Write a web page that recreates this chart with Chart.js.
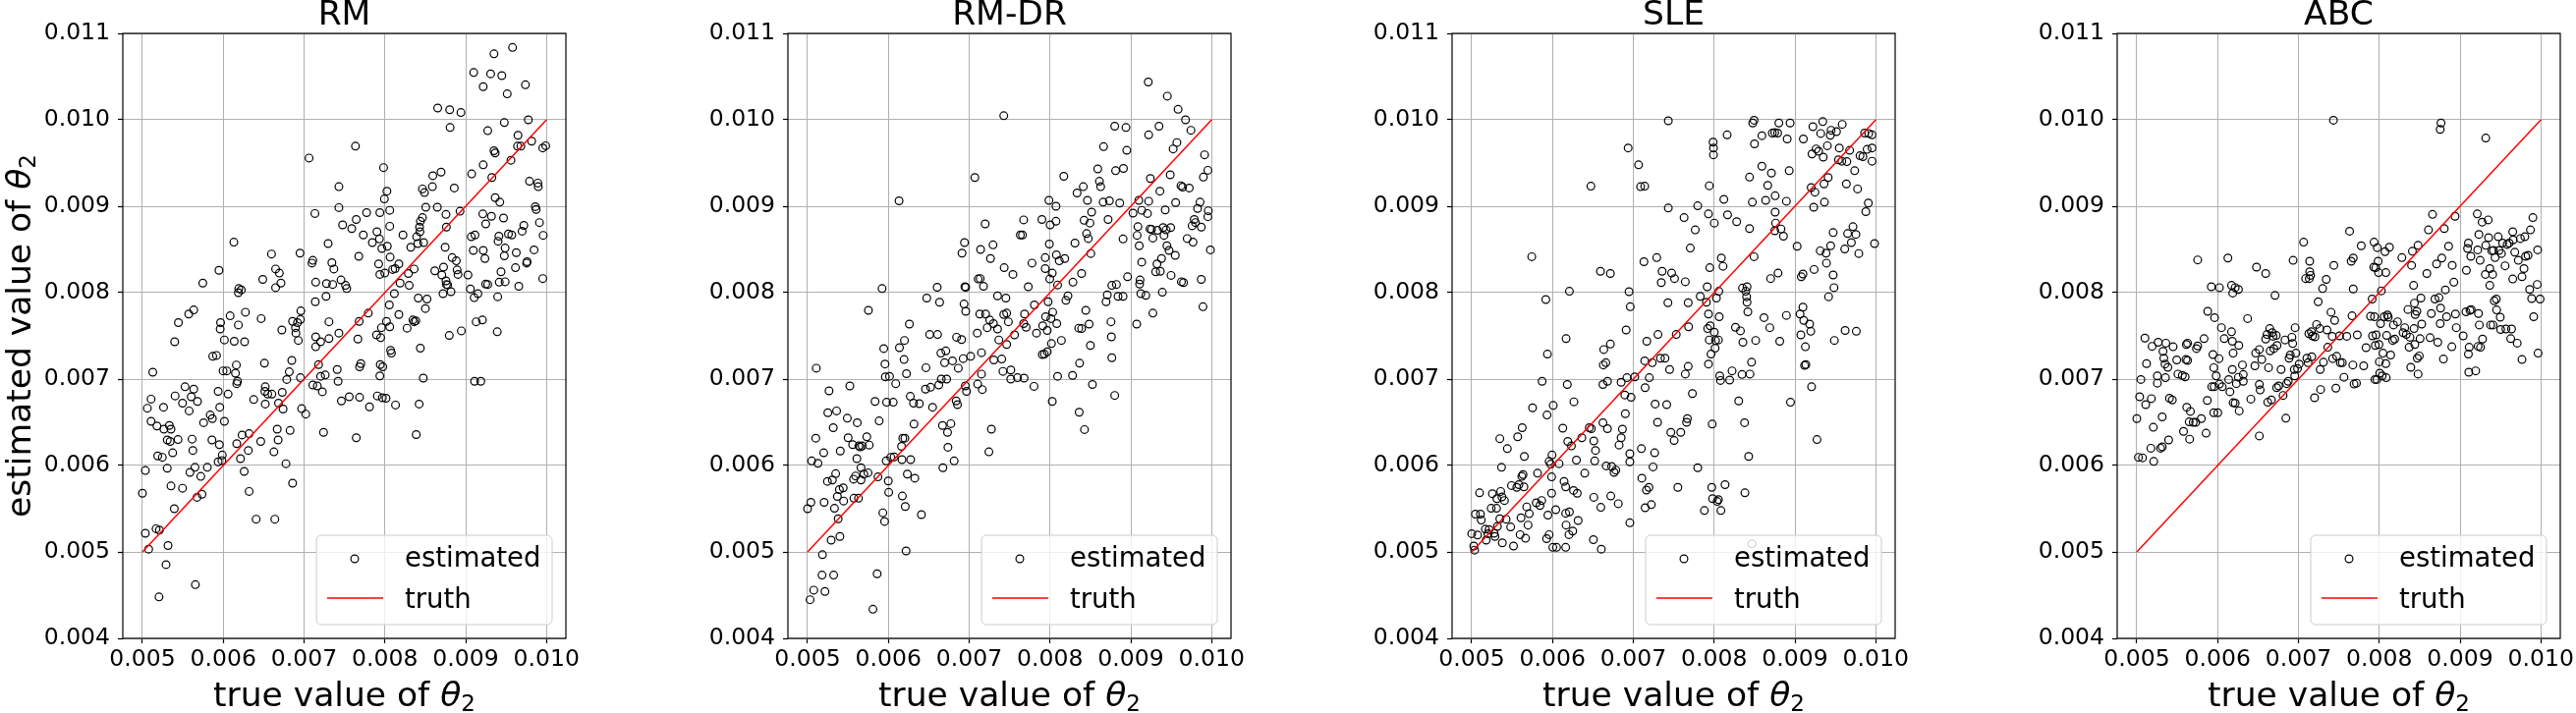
<!DOCTYPE html>
<html>
<head>
<meta charset="utf-8">
<title>estimated vs true value of theta2</title>
<script src="https://cdn.jsdelivr.net/npm/chart.js@4.4.1/dist/chart.umd.min.js"></script>
<style>
  html, body { margin: 0; padding: 0; background: #fff; overflow: hidden; }
  #figure { position: relative; width: 2622px; height: 726px; overflow: hidden; }
  .panel { position: absolute; top: 0; }
</style>
</head>
<body>
<div id="figure"></div>
<script>
// axis ticks and limits (same for every panel)
const xTicks = [0.005, 0.006, 0.007, 0.008, 0.009, 0.010];
const yTicks = [0.004, 0.005, 0.006, 0.007, 0.008, 0.009, 0.010, 0.011];
const xLimits = [0.004757, 0.010240];
const yLimits = [0.004, 0.011];

// the red "truth" line y = x
const truthX = [0.005, 0.010];
const truthY = [0.005, 0.010];

const panelTitles = ['RM', 'RM-DR', 'SLE', 'ABC'];

// RM
const rmTrue = [
  5.000e-3, 5.036e-3, 5.036e-3, 5.077e-3, 5.061e-3, 5.107e-3, 5.107e-3, 5.128e-3, 5.179e-3, 5.169e-3,
  5.210e-3, 5.189e-3, 5.246e-3, 5.266e-3, 5.261e-3, 5.292e-3, 5.317e-3, 5.205e-3, 5.307e-3, 5.307e-3,
  5.333e-3, 5.353e-3, 5.343e-3, 5.374e-3, 5.353e-3, 5.394e-3, 5.399e-3, 5.404e-3, 5.440e-3, 5.445e-3,
  5.496e-3, 5.496e-3, 5.527e-3, 5.573e-3, 5.635e-3, 5.578e-3, 5.588e-3, 5.614e-3, 5.624e-3, 5.635e-3,
  5.604e-3, 5.650e-3, 5.681e-3, 5.655e-3, 5.675e-3, 5.737e-3, 5.722e-3, 5.747e-3, 5.757e-3, 5.803e-3,
  5.839e-3, 5.865e-3, 5.860e-3, 5.870e-3, 5.916e-3, 5.947e-3, 5.937e-3, 5.952e-3, 5.957e-3, 5.962e-3,
  5.967e-3, 5.937e-3, 5.988e-3, 5.983e-3, 5.998e-3, 6.014e-3, 6.014e-3, 6.044e-3, 6.060e-3, 6.085e-3,
  6.131e-3, 6.136e-3, 6.162e-3, 6.151e-3, 6.167e-3, 6.177e-3, 6.187e-3, 6.192e-3, 6.223e-3, 6.187e-3,
  6.167e-3, 6.213e-3, 6.233e-3, 6.259e-3, 6.264e-3, 6.274e-3, 6.310e-3, 6.320e-3, 6.320e-3, 6.377e-3,
  6.407e-3, 6.464e-3, 6.469e-3, 6.489e-3, 6.510e-3, 6.520e-3, 6.515e-3, 6.520e-3, 6.551e-3, 6.597e-3,
  6.602e-3, 6.638e-3, 6.627e-3, 6.648e-3, 6.648e-3, 6.694e-3, 6.714e-3, 6.668e-3, 6.679e-3, 6.684e-3,
  6.730e-3, 6.740e-3, 6.725e-3, 6.776e-3, 6.786e-3, 6.817e-3, 6.827e-3, 6.848e-3, 6.858e-3, 6.858e-3,
  6.894e-3, 6.899e-3, 6.919e-3, 6.929e-3, 6.950e-3, 6.955e-3, 6.960e-3, 6.955e-3, 6.970e-3, 7.021e-3,
  7.062e-3, 7.098e-3, 7.108e-3, 7.108e-3, 7.134e-3, 7.144e-3, 7.139e-3, 7.144e-3, 7.144e-3, 7.164e-3,
  7.180e-3, 7.205e-3, 7.205e-3, 7.226e-3, 7.241e-3, 7.262e-3, 7.272e-3, 7.277e-3, 7.298e-3, 7.308e-3,
  7.308e-3, 7.354e-3, 7.344e-3, 7.369e-3, 7.410e-3, 7.421e-3, 7.431e-3, 7.431e-3, 7.431e-3, 7.457e-3,
  7.462e-3, 7.477e-3, 7.513e-3, 7.528e-3, 7.559e-3, 7.590e-3, 7.636e-3, 7.646e-3, 7.646e-3, 7.677e-3,
  7.666e-3, 7.682e-3, 7.687e-3, 7.702e-3, 7.687e-3, 7.733e-3, 7.774e-3, 7.795e-3, 7.810e-3, 7.845e-3,
  7.902e-3, 7.907e-3, 7.897e-3, 7.923e-3, 7.933e-3, 7.938e-3, 7.938e-3, 7.943e-3, 7.938e-3, 7.948e-3,
  7.958e-3, 7.974e-3, 7.963e-3, 7.969e-3, 7.984e-3, 7.994e-3, 7.999e-3, 8.014e-3, 8.025e-3, 8.030e-3,
  8.020e-3, 8.060e-3, 8.060e-3, 8.065e-3, 8.055e-3, 8.060e-3, 8.071e-3, 8.081e-3, 8.096e-3, 8.117e-3,
  8.127e-3, 8.132e-3, 8.173e-3, 8.173e-3, 8.188e-3, 8.224e-3, 8.275e-3, 8.291e-3, 8.301e-3, 8.321e-3,
  8.347e-3, 8.362e-3, 8.362e-3, 8.383e-3, 8.388e-3, 8.393e-3, 8.413e-3, 8.408e-3, 8.429e-3, 8.439e-3,
  8.434e-3, 8.439e-3, 8.424e-3, 8.465e-3, 8.465e-3, 8.480e-3, 8.475e-3, 8.490e-3, 8.501e-3, 8.506e-3,
  8.521e-3, 8.588e-3, 8.593e-3, 8.618e-3, 8.649e-3, 8.654e-3, 8.695e-3, 8.705e-3, 8.720e-3, 8.726e-3,
  8.746e-3, 8.756e-3, 8.756e-3, 8.761e-3, 8.761e-3, 8.777e-3, 8.797e-3, 8.807e-3, 8.802e-3, 8.818e-3,
  8.833e-3, 8.859e-3, 8.884e-3, 8.894e-3, 8.905e-3, 8.930e-3, 8.941e-3, 8.946e-3, 9.028e-3, 9.058e-3,
  9.069e-3, 9.074e-3, 9.094e-3, 9.099e-3, 9.110e-3, 9.105e-3, 9.115e-3, 9.130e-3, 9.151e-3, 9.187e-3,
  9.207e-3, 9.212e-3, 9.217e-3, 9.217e-3, 9.217e-3, 9.238e-3, 9.248e-3, 9.248e-3, 9.273e-3, 9.273e-3,
  9.309e-3, 9.319e-3, 9.324e-3, 9.350e-3, 9.350e-3, 9.365e-3, 9.365e-3, 9.391e-3, 9.396e-3, 9.401e-3,
  9.411e-3, 9.416e-3, 9.422e-3, 9.437e-3, 9.447e-3, 9.468e-3, 9.478e-3, 9.488e-3, 9.478e-3, 9.488e-3,
  9.514e-3, 9.529e-3, 9.560e-3, 9.570e-3, 9.580e-3, 9.616e-3, 9.626e-3, 9.647e-3, 9.642e-3, 9.657e-3,
  9.683e-3, 9.698e-3, 9.719e-3, 9.739e-3, 9.754e-3, 9.760e-3, 9.775e-3, 9.790e-3, 9.816e-3, 9.846e-3,
  9.862e-3, 9.872e-3, 9.893e-3, 9.898e-3, 9.913e-3, 9.954e-3, 9.954e-3, 9.959e-3, 9.990e-3
];
const rmEst = [
  5.679e-3, 5.942e-3, 5.216e-3, 5.032e-3, 6.663e-3, 6.768e-3, 6.511e-3, 7.079e-3, 6.458e-3, 5.268e-3,
  5.253e-3, 6.111e-3, 6.095e-3, 6.421e-3, 6.674e-3, 4.853e-3, 5.074e-3, 4.479e-3, 5.968e-3, 6.295e-3,
  6.463e-3, 6.421e-3, 6.279e-3, 6.147e-3, 5.763e-3, 5.500e-3, 7.432e-3, 6.805e-3, 6.300e-3, 7.653e-3,
  5.737e-3, 6.721e-3, 6.911e-3, 7.753e-3, 7.800e-3, 6.632e-3, 5.921e-3, 6.305e-3, 6.174e-3, 6.884e-3,
  6.795e-3, 5.979e-3, 6.742e-3, 4.621e-3, 5.632e-3, 5.668e-3, 5.874e-3, 8.111e-3, 6.495e-3, 5.979e-3,
  6.584e-3, 6.542e-3, 6.295e-3, 7.263e-3, 7.274e-3, 8.258e-3, 6.858e-3, 6.242e-3, 6.674e-3, 7.579e-3,
  7.653e-3, 6.042e-3, 6.121e-3, 6.058e-3, 7.095e-3, 6.511e-3, 7.453e-3, 7.095e-3, 6.826e-3, 7.732e-3,
  8.584e-3, 7.437e-3, 7.163e-3, 7.068e-3, 6.947e-3, 6.974e-3, 8.000e-3, 8.047e-3, 8.032e-3, 7.626e-3,
  6.253e-3, 6.079e-3, 6.353e-3, 5.932e-3, 7.432e-3, 7.774e-3, 6.174e-3, 6.368e-3, 5.700e-3, 6.763e-3,
  5.379e-3, 6.279e-3, 7.700e-3, 8.153e-3, 7.184e-3, 6.911e-3, 6.858e-3, 6.711e-3, 6.826e-3, 8.447e-3,
  6.826e-3, 5.379e-3, 6.158e-3, 8.274e-3, 8.058e-3, 8.226e-3, 8.111e-3, 6.421e-3, 6.295e-3, 6.721e-3,
  6.847e-3, 6.653e-3, 7.568e-3, 6.021e-3, 6.995e-3, 7.084e-3, 6.405e-3, 7.216e-3, 5.795e-3, 7.668e-3,
  7.595e-3, 7.532e-3, 7.653e-3, 7.447e-3, 8.458e-3, 7.689e-3, 7.789e-3, 7.016e-3, 6.658e-3, 6.595e-3,
  9.558e-3, 8.342e-3, 8.374e-3, 6.932e-3, 8.916e-3, 8.121e-3, 7.895e-3, 7.489e-3, 7.374e-3, 6.921e-3,
  7.168e-3, 7.432e-3, 7.032e-3, 6.853e-3, 6.384e-3, 7.047e-3, 7.958e-3, 8.105e-3, 8.568e-3, 7.663e-3,
  7.468e-3, 8.095e-3, 8.347e-3, 8.274e-3, 7.111e-3, 6.974e-3, 9.226e-3, 8.984e-3, 7.532e-3, 8.147e-3,
  6.747e-3, 8.784e-3, 8.084e-3, 8.047e-3, 6.795e-3, 8.742e-3, 9.695e-3, 6.321e-3, 8.847e-3, 8.421e-3,
  7.463e-3, 7.668e-3, 7.142e-3, 7.179e-3, 6.789e-3, 8.668e-3, 8.926e-3, 7.763e-3, 6.679e-3, 8.579e-3,
  8.705e-3, 6.805e-3, 7.511e-3, 8.332e-3, 8.621e-3, 8.211e-3, 7.037e-3, 7.168e-3, 8.926e-3, 7.479e-3,
  7.595e-3, 7.142e-3, 8.511e-3, 6.784e-3, 9.447e-3, 9.084e-3, 8.226e-3, 6.779e-3, 9.174e-3, 8.537e-3,
  7.668e-3, 8.953e-3, 8.768e-3, 8.411e-3, 7.858e-3, 7.605e-3, 7.332e-3, 7.300e-3, 8.268e-3, 7.989e-3,
  8.279e-3, 6.700e-3, 8.332e-3, 7.747e-3, 8.111e-3, 8.668e-3, 7.589e-3, 8.221e-3, 8.084e-3, 8.526e-3,
  7.684e-3, 7.663e-3, 8.274e-3, 7.674e-3, 6.358e-3, 8.647e-3, 7.937e-3, 8.568e-3, 8.758e-3, 8.826e-3,
  8.705e-3, 7.358e-3, 6.711e-3, 8.868e-3, 9.200e-3, 8.579e-3, 7.011e-3, 9.158e-3, 7.816e-3, 8.989e-3,
  7.926e-3, 9.226e-3, 9.353e-3, 8.253e-3, 8.989e-3, 10.137e-3, 9.395e-3, 8.205e-3, 7.989e-3, 8.295e-3,
  8.526e-3, 8.905e-3, 8.137e-3, 8.758e-3, 8.095e-3, 8.089e-3, 7.505e-3, 9.911e-3, 10.116e-3, 8.011e-3,
  8.405e-3, 9.211e-3, 8.368e-3, 8.263e-3, 8.211e-3, 8.942e-3, 10.084e-3, 7.558e-3, 8.205e-3, 8.042e-3,
  8.647e-3, 9.374e-3, 8.489e-3, 10.547e-3, 6.974e-3, 7.942e-3, 8.668e-3, 7.663e-3, 7.989e-3, 6.974e-3,
  7.684e-3, 8.911e-3, 10.384e-3, 9.479e-3, 8.489e-3, 8.395e-3, 8.795e-3, 8.100e-3, 9.874e-3, 8.095e-3,
  10.532e-3, 8.884e-3, 9.332e-3, 10.763e-3, 9.642e-3, 9.616e-3, 9.100e-3, 7.547e-3, 7.953e-3, 8.595e-3,
  8.653e-3, 8.121e-3, 9.047e-3, 8.242e-3, 10.511e-3, 8.863e-3, 8.426e-3, 8.516e-3, 9.968e-3, 8.126e-3,
  10.300e-3, 8.679e-3, 9.532e-3, 8.668e-3, 10.837e-3, 8.289e-3, 8.463e-3, 9.821e-3, 9.695e-3, 8.074e-3,
  9.695e-3, 8.711e-3, 8.779e-3, 10.405e-3, 8.342e-3, 8.358e-3, 10.000e-3, 9.289e-3, 9.753e-3, 8.495e-3,
  8.995e-3, 8.963e-3, 9.268e-3, 9.226e-3, 8.811e-3, 8.163e-3, 9.674e-3, 8.663e-3, 9.700e-3
];

// RM-DR
const rmdrTrue = [
  5.000e-3, 5.031e-3, 5.041e-3, 5.051e-3, 5.077e-3, 5.108e-3, 5.102e-3, 5.128e-3, 5.184e-3, 5.179e-3,
  5.205e-3, 5.200e-3, 5.215e-3, 5.251e-3, 5.246e-3, 5.266e-3, 5.292e-3, 5.318e-3, 5.323e-3, 5.333e-3,
  5.307e-3, 5.359e-3, 5.348e-3, 5.369e-3, 5.379e-3, 5.394e-3, 5.400e-3, 5.405e-3, 5.441e-3, 5.446e-3,
  5.492e-3, 5.502e-3, 5.523e-3, 5.558e-3, 5.569e-3, 5.574e-3, 5.610e-3, 5.615e-3, 5.594e-3, 5.630e-3,
  5.635e-3, 5.651e-3, 5.661e-3, 5.661e-3, 5.676e-3, 5.697e-3, 5.733e-3, 5.763e-3, 5.753e-3, 5.748e-3,
  5.809e-3, 5.835e-3, 5.861e-3, 5.871e-3, 5.886e-3, 5.922e-3, 5.943e-3, 5.932e-3, 5.953e-3, 5.958e-3,
  5.963e-3, 5.973e-3, 5.978e-3, 5.999e-3, 6.004e-3, 6.014e-3, 6.030e-3, 6.060e-3, 6.091e-3, 6.132e-3,
  6.137e-3, 6.173e-3, 6.168e-3, 6.199e-3, 6.194e-3, 6.219e-3, 6.224e-3, 6.209e-3, 6.235e-3, 6.260e-3,
  6.271e-3, 6.276e-3, 6.311e-3, 6.317e-3, 6.327e-3, 6.383e-3, 6.409e-3, 6.475e-3, 6.465e-3, 6.460e-3,
  6.511e-3, 6.522e-3, 6.547e-3, 6.604e-3, 6.609e-3, 6.624e-3, 6.634e-3, 6.650e-3, 6.655e-3, 6.670e-3,
  6.675e-3, 6.696e-3, 6.711e-3, 6.721e-3, 6.732e-3, 6.737e-3, 6.773e-3, 6.793e-3, 6.814e-3, 6.839e-3,
  6.855e-3, 6.844e-3, 6.865e-3, 6.906e-3, 6.911e-3, 6.926e-3, 6.936e-3, 6.942e-3, 6.947e-3, 6.957e-3,
  6.957e-3, 6.952e-3, 6.967e-3, 7.018e-3, 7.070e-3, 7.100e-3, 7.105e-3, 7.111e-3, 7.136e-3, 7.141e-3,
  7.131e-3, 7.152e-3, 7.152e-3, 7.162e-3, 7.177e-3, 7.198e-3, 7.203e-3, 7.223e-3, 7.244e-3, 7.254e-3,
  7.264e-3, 7.275e-3, 7.295e-3, 7.305e-3, 7.300e-3, 7.351e-3, 7.351e-3, 7.367e-3, 7.403e-3, 7.418e-3,
  7.428e-3, 7.433e-3, 7.428e-3, 7.464e-3, 7.464e-3, 7.454e-3, 7.485e-3, 7.515e-3, 7.515e-3, 7.541e-3,
  7.561e-3, 7.597e-3, 7.633e-3, 7.659e-3, 7.674e-3, 7.679e-3, 7.685e-3, 7.674e-3, 7.705e-3, 7.731e-3,
  7.777e-3, 7.802e-3, 7.807e-3, 7.833e-3, 7.900e-3, 7.905e-3, 7.910e-3, 7.931e-3, 7.941e-3, 7.941e-3,
  7.946e-3, 7.966e-3, 7.966e-3, 7.977e-3, 7.987e-3, 7.992e-3, 8.002e-3, 7.997e-3, 8.012e-3, 8.018e-3,
  8.028e-3, 8.028e-3, 8.033e-3, 8.074e-3, 8.074e-3, 8.079e-3, 8.084e-3, 8.094e-3, 8.094e-3, 8.115e-3,
  8.141e-3, 8.171e-3, 8.182e-3, 8.197e-3, 8.222e-3, 8.279e-3, 8.284e-3, 8.309e-3, 8.335e-3, 8.361e-3,
  8.366e-3, 8.356e-3, 8.391e-3, 8.391e-3, 8.412e-3, 8.422e-3, 8.427e-3, 8.443e-3, 8.453e-3, 8.463e-3,
  8.474e-3, 8.484e-3, 8.494e-3, 8.500e-3, 8.505e-3, 8.515e-3, 8.525e-3, 8.591e-3, 8.612e-3, 8.627e-3,
  8.663e-3, 8.658e-3, 8.694e-3, 8.709e-3, 8.719e-3, 8.735e-3, 8.755e-3, 8.760e-3, 8.765e-3, 8.765e-3,
  8.801e-3, 8.812e-3, 8.801e-3, 8.822e-3, 8.842e-3, 8.863e-3, 8.904e-3, 8.904e-3, 8.909e-3, 8.940e-3,
  8.950e-3, 8.960e-3, 9.027e-3, 9.073e-3, 9.078e-3, 9.088e-3, 9.099e-3, 9.104e-3, 9.114e-3, 9.109e-3,
  9.124e-3, 9.135e-3, 9.135e-3, 9.186e-3, 9.206e-3, 9.216e-3, 9.221e-3, 9.221e-3, 9.242e-3, 9.237e-3,
  9.257e-3, 9.273e-3, 9.273e-3, 9.308e-3, 9.324e-3, 9.329e-3, 9.349e-3, 9.360e-3, 9.365e-3, 9.380e-3,
  9.390e-3, 9.400e-3, 9.411e-3, 9.426e-3, 9.437e-3, 9.452e-3, 9.447e-3, 9.473e-3, 9.488e-3, 9.498e-3,
  9.493e-3, 9.524e-3, 9.550e-3, 9.555e-3, 9.570e-3, 9.585e-3, 9.621e-3, 9.626e-3, 9.641e-3, 9.652e-3,
  9.677e-3, 9.698e-3, 9.723e-3, 9.744e-3, 9.759e-3, 9.770e-3, 9.785e-3, 9.800e-3, 9.826e-3, 9.857e-3,
  9.872e-3, 9.872e-3, 9.893e-3, 9.898e-3, 9.913e-3, 9.954e-3, 9.954e-3, 9.959e-3, 9.985e-3, 6.178e-3,
  6.204e-3, 6.163e-3, 6.071e-3
];
const rmdrEst = [
  5.500e-3, 4.447e-3, 5.574e-3, 6.053e-3, 4.558e-3, 7.126e-3, 6.316e-3, 6.026e-3, 4.968e-3, 4.732e-3,
  5.574e-3, 6.147e-3, 4.542e-3, 6.611e-3, 5.816e-3, 6.863e-3, 5.137e-3, 6.437e-3, 4.732e-3, 5.505e-3,
  5.832e-3, 6.632e-3, 5.905e-3, 5.642e-3, 5.384e-3, 5.721e-3, 5.179e-3, 6.168e-3, 5.742e-3, 5.589e-3,
  6.547e-3, 6.321e-3, 6.921e-3, 6.242e-3, 5.842e-3, 5.621e-3, 6.079e-3, 6.495e-3, 5.879e-3, 5.621e-3,
  6.226e-3, 6.216e-3, 5.832e-3, 5.974e-3, 6.226e-3, 5.900e-3, 6.332e-3, 6.237e-3, 7.795e-3, 5.916e-3,
  4.337e-3, 6.742e-3, 4.747e-3, 5.868e-3, 6.516e-3, 8.047e-3, 7.353e-3, 5.453e-3, 5.353e-3, 7.174e-3,
  7.026e-3, 6.053e-3, 6.732e-3, 5.821e-3, 5.689e-3, 7.032e-3, 6.095e-3, 6.732e-3, 6.947e-3, 9.063e-3,
  7.363e-3, 5.647e-3, 6.068e-3, 7.447e-3, 7.226e-3, 5.011e-3, 7.063e-3, 5.526e-3, 5.900e-3, 7.637e-3,
  6.800e-3, 6.068e-3, 6.721e-3, 6.479e-3, 5.853e-3, 6.716e-3, 5.432e-3, 7.937e-3, 7.132e-3, 6.884e-3,
  7.516e-3, 6.905e-3, 6.674e-3, 8.063e-3, 7.516e-3, 6.932e-3, 7.889e-3, 7.300e-3, 7.000e-3, 6.463e-3,
  5.974e-3, 7.189e-3, 7.326e-3, 7.000e-3, 6.384e-3, 6.211e-3, 6.484e-3, 7.211e-3, 6.053e-3, 6.747e-3,
  6.705e-3, 7.484e-3, 7.126e-3, 7.458e-3, 8.458e-3, 7.237e-3, 7.868e-3, 8.579e-3, 8.068e-3, 8.063e-3,
  7.784e-3, 6.921e-3, 6.858e-3, 7.263e-3, 9.332e-3, 7.532e-3, 6.942e-3, 8.158e-3, 8.163e-3, 8.500e-3,
  7.753e-3, 7.305e-3, 7.058e-3, 6.879e-3, 8.074e-3, 8.795e-3, 7.753e-3, 7.595e-3, 6.158e-3, 7.684e-3,
  8.395e-3, 6.421e-3, 8.553e-3, 7.221e-3, 7.642e-3, 7.579e-3, 7.963e-3, 7.453e-3, 7.232e-3, 7.089e-3,
  10.047e-3, 8.289e-3, 7.747e-3, 7.763e-3, 7.400e-3, 7.937e-3, 7.663e-3, 7.000e-3, 7.105e-3, 8.211e-3,
  7.511e-3, 7.016e-3, 8.668e-3, 8.668e-3, 8.842e-3, 7.011e-3, 7.753e-3, 7.642e-3, 7.600e-3, 8.068e-3,
  8.342e-3, 6.916e-3, 7.858e-3, 7.532e-3, 8.847e-3, 7.284e-3, 7.616e-3, 7.289e-3, 8.279e-3, 8.405e-3,
  7.721e-3, 7.316e-3, 7.563e-3, 7.895e-3, 9.068e-3, 8.563e-3, 8.784e-3, 8.158e-3, 7.700e-3, 7.411e-3,
  6.742e-3, 8.226e-3, 7.774e-3, 9.000e-3, 8.826e-3, 8.437e-3, 7.642e-3, 8.089e-3, 7.032e-3, 8.368e-3,
  7.447e-3, 9.347e-3, 8.395e-3, 7.911e-3, 7.963e-3, 7.042e-3, 8.121e-3, 8.574e-3, 9.153e-3, 6.616e-3,
  7.184e-3, 7.589e-3, 8.221e-3, 7.584e-3, 9.226e-3, 8.837e-3, 6.416e-3, 7.795e-3, 8.684e-3, 9.068e-3,
  8.626e-3, 7.637e-3, 8.805e-3, 7.389e-3, 8.453e-3, 8.932e-3, 6.937e-3, 9.432e-3, 9.289e-3, 9.226e-3,
  9.689e-3, 9.047e-3, 7.895e-3, 7.974e-3, 8.847e-3, 9.063e-3, 7.663e-3, 7.489e-3, 7.247e-3, 8.084e-3,
  9.926e-3, 9.411e-3, 6.811e-3, 8.095e-3, 7.958e-3, 9.037e-3, 8.621e-3, 7.958e-3, 9.437e-3, 9.911e-3,
  9.647e-3, 8.184e-3, 8.921e-3, 7.637e-3, 8.663e-3, 8.763e-3, 9.068e-3, 8.542e-3, 8.147e-3, 8.100e-3,
  7.989e-3, 8.353e-3, 8.953e-3, 7.968e-3, 8.916e-3, 10.437e-3, 9.826e-3, 9.058e-3, 9.321e-3, 8.737e-3,
  8.732e-3, 8.632e-3, 7.763e-3, 8.242e-3, 8.332e-3, 8.721e-3, 9.926e-3, 9.174e-3, 8.247e-3, 8.395e-3,
  8.005e-3, 8.753e-3, 8.663e-3, 8.958e-3, 8.726e-3, 10.274e-3, 8.542e-3, 8.489e-3, 9.363e-3, 8.200e-3,
  8.753e-3, 9.663e-3, 8.432e-3, 9.042e-3, 9.737e-3, 10.121e-3, 9.237e-3, 8.126e-3, 9.221e-3, 8.116e-3,
  10.000e-3, 8.626e-3, 9.211e-3, 9.879e-3, 8.774e-3, 8.584e-3, 8.847e-3, 8.811e-3, 8.974e-3, 9.047e-3,
  8.758e-3, 8.153e-3, 7.837e-3, 9.337e-3, 9.595e-3, 9.416e-3, 8.879e-3, 8.947e-3, 8.495e-3, 6.316e-3,
  6.316e-3, 6.221e-3, 6.100e-3
];

// SLE
const sleTrue = [
  5.000e-3, 5.026e-3, 5.036e-3, 5.046e-3, 5.072e-3, 5.097e-3, 5.108e-3, 5.118e-3, 5.169e-3, 5.179e-3,
  5.200e-3, 5.215e-3, 5.241e-3, 5.256e-3, 5.277e-3, 5.287e-3, 5.307e-3, 5.312e-3, 5.318e-3, 5.348e-3,
  5.359e-3, 5.374e-3, 5.369e-3, 5.379e-3, 5.348e-3, 5.405e-3, 5.425e-3, 5.441e-3, 5.482e-3, 5.492e-3,
  5.517e-3, 5.558e-3, 5.569e-3, 5.584e-3, 5.599e-3, 5.610e-3, 5.620e-3, 5.625e-3, 5.635e-3, 5.651e-3,
  5.646e-3, 5.666e-3, 5.681e-3, 5.697e-3, 5.712e-3, 5.743e-3, 5.753e-3, 5.799e-3, 5.815e-3, 5.845e-3,
  5.866e-3, 5.871e-3, 5.917e-3, 5.927e-3, 5.932e-3, 5.937e-3, 5.943e-3, 5.958e-3, 5.958e-3, 5.978e-3,
  5.989e-3, 5.989e-3, 5.994e-3, 6.009e-3, 6.004e-3, 6.040e-3, 6.050e-3, 6.081e-3, 6.127e-3, 6.143e-3,
  6.163e-3, 6.163e-3, 6.163e-3, 6.168e-3, 6.168e-3, 6.183e-3, 6.189e-3, 6.209e-3, 6.204e-3, 6.209e-3,
  6.234e-3, 6.250e-3, 6.260e-3, 6.265e-3, 6.296e-3, 6.306e-3, 6.317e-3, 6.363e-3, 6.399e-3, 6.455e-3,
  6.475e-3, 6.480e-3, 6.506e-3, 6.511e-3, 6.511e-3, 6.522e-3, 6.532e-3, 6.593e-3, 6.598e-3, 6.604e-3,
  6.624e-3, 6.624e-3, 6.634e-3, 6.629e-3, 6.660e-3, 6.665e-3, 6.680e-3, 6.680e-3, 6.716e-3, 6.716e-3,
  6.721e-3, 6.732e-3, 6.762e-3, 6.783e-3, 6.814e-3, 6.824e-3, 6.849e-3, 6.849e-3, 6.865e-3, 6.895e-3,
  6.901e-3, 6.911e-3, 6.921e-3, 6.936e-3, 6.947e-3, 6.957e-3, 6.957e-3, 6.957e-3, 6.962e-3, 6.972e-3,
  7.018e-3, 7.065e-3, 7.090e-3, 7.100e-3, 7.105e-3, 7.131e-3, 7.141e-3, 7.141e-3, 7.146e-3, 7.146e-3,
  7.162e-3, 7.167e-3, 7.193e-3, 7.198e-3, 7.223e-3, 7.234e-3, 7.244e-3, 7.264e-3, 7.270e-3, 7.290e-3,
  7.300e-3, 7.305e-3, 7.336e-3, 7.346e-3, 7.356e-3, 7.392e-3, 7.413e-3, 7.428e-3, 7.433e-3, 7.433e-3,
  7.449e-3, 7.464e-3, 7.474e-3, 7.505e-3, 7.510e-3, 7.531e-3, 7.551e-3, 7.587e-3, 7.628e-3, 7.643e-3,
  7.643e-3, 7.659e-3, 7.669e-3, 7.679e-3, 7.679e-3, 7.684e-3, 7.705e-3, 7.731e-3, 7.766e-3, 7.797e-3,
  7.797e-3, 7.828e-3, 7.879e-3, 7.904e-3, 7.914e-3, 7.920e-3, 7.930e-3, 7.930e-3, 7.930e-3, 7.940e-3,
  7.940e-3, 7.946e-3, 7.951e-3, 7.961e-3, 7.971e-3, 7.976e-3, 7.981e-3, 7.987e-3, 7.992e-3, 7.992e-3,
  8.002e-3, 8.002e-3, 8.012e-3, 8.017e-3, 8.028e-3, 8.038e-3, 8.053e-3, 8.053e-3, 8.058e-3, 8.063e-3,
  8.069e-3, 8.079e-3, 8.084e-3, 8.089e-3, 8.110e-3, 8.120e-3, 8.135e-3, 8.161e-3, 8.166e-3, 8.192e-3,
  8.222e-3, 8.264e-3, 8.279e-3, 8.304e-3, 8.325e-3, 8.345e-3, 8.351e-3, 8.356e-3, 8.376e-3, 8.381e-3,
  8.392e-3, 8.402e-3, 8.407e-3, 8.407e-3, 8.417e-3, 8.427e-3, 8.438e-3, 8.438e-3, 8.443e-3, 8.463e-3,
  8.468e-3, 8.473e-3, 8.478e-3, 8.494e-3, 8.494e-3, 8.499e-3, 8.514e-3, 8.591e-3, 8.591e-3, 8.617e-3,
  8.638e-3, 8.663e-3, 8.689e-3, 8.699e-3, 8.709e-3, 8.720e-3, 8.750e-3, 8.755e-3, 8.755e-3, 8.761e-3,
  8.750e-3, 8.786e-3, 8.791e-3, 8.801e-3, 8.812e-3, 8.827e-3, 8.858e-3, 8.894e-3, 8.894e-3, 8.904e-3,
  8.929e-3, 8.940e-3, 8.945e-3, 9.027e-3, 9.063e-3, 9.073e-3, 9.078e-3, 9.099e-3, 9.099e-3, 9.104e-3,
  9.109e-3, 9.119e-3, 9.129e-3, 9.135e-3, 9.181e-3, 9.196e-3, 9.201e-3, 9.206e-3, 9.211e-3, 9.222e-3,
  9.232e-3, 9.237e-3, 9.247e-3, 9.262e-3, 9.273e-3, 9.293e-3, 9.319e-3, 9.313e-3, 9.344e-3, 9.350e-3,
  9.360e-3, 9.365e-3, 9.385e-3, 9.390e-3, 9.401e-3, 9.411e-3, 9.416e-3, 9.437e-3, 9.442e-3, 9.447e-3,
  9.473e-3, 9.473e-3, 9.483e-3, 9.488e-3, 9.514e-3, 9.539e-3, 9.549e-3, 9.580e-3, 9.585e-3, 9.616e-3,
  9.621e-3, 9.636e-3, 9.642e-3, 9.652e-3, 9.677e-3, 9.698e-3, 9.718e-3, 9.739e-3, 9.754e-3, 9.759e-3,
  9.775e-3, 9.790e-3, 9.805e-3, 9.841e-3, 9.862e-3, 9.877e-3, 9.893e-3, 9.908e-3, 9.913e-3, 9.954e-3,
  9.954e-3, 9.954e-3, 9.985e-3
];
const sleEst = [
  5.211e-3, 5.068e-3, 5.021e-3, 5.437e-3, 5.195e-3, 5.684e-3, 5.437e-3, 5.368e-3, 5.263e-3, 5.137e-3,
  5.211e-3, 5.258e-3, 5.505e-3, 5.674e-3, 5.216e-3, 5.179e-3, 5.505e-3, 5.616e-3, 5.295e-3, 6.311e-3,
  5.700e-3, 5.637e-3, 5.979e-3, 5.105e-3, 5.384e-3, 5.595e-3, 5.379e-3, 6.195e-3, 5.289e-3, 5.768e-3,
  5.068e-3, 5.747e-3, 6.332e-3, 5.779e-3, 5.200e-3, 5.395e-3, 5.874e-3, 6.437e-3, 5.895e-3, 6.105e-3,
  5.753e-3, 5.158e-3, 5.521e-3, 5.311e-3, 5.442e-3, 8.416e-3, 6.668e-3, 5.568e-3, 5.911e-3, 5.537e-3,
  5.595e-3, 6.974e-3, 7.921e-3, 5.153e-3, 6.584e-3, 7.289e-3, 5.426e-3, 6.047e-3, 5.200e-3, 6.016e-3,
  5.868e-3, 5.679e-3, 6.121e-3, 6.695e-3, 5.053e-3, 5.489e-3, 5.053e-3, 6.021e-3, 6.432e-3, 5.816e-3,
  5.753e-3, 5.053e-3, 5.447e-3, 5.311e-3, 7.468e-3, 6.937e-3, 6.279e-3, 5.463e-3, 5.200e-3, 8.016e-3,
  6.226e-3, 5.242e-3, 5.711e-3, 6.737e-3, 6.063e-3, 5.679e-3, 5.363e-3, 6.321e-3, 5.911e-3, 6.437e-3,
  9.232e-3, 6.426e-3, 5.142e-3, 6.284e-3, 5.632e-3, 6.053e-3, 6.174e-3, 8.247e-3, 5.516e-3, 5.032e-3,
  6.495e-3, 6.937e-3, 7.342e-3, 7.163e-3, 7.189e-3, 5.995e-3, 6.426e-3, 6.974e-3, 8.221e-3, 7.405e-3,
  5.647e-3, 5.989e-3, 5.921e-3, 5.947e-3, 5.558e-3, 6.237e-3, 6.321e-3, 6.963e-3, 6.421e-3, 6.816e-3,
  6.600e-3, 7.568e-3, 7.016e-3, 9.674e-3, 8.011e-3, 6.137e-3, 6.042e-3, 5.337e-3, 7.837e-3, 6.789e-3,
  7.026e-3, 9.479e-3, 9.226e-3, 6.195e-3, 5.853e-3, 8.358e-3, 9.232e-3, 7.211e-3, 6.900e-3, 5.511e-3,
  5.716e-3, 7.437e-3, 5.747e-3, 7.016e-3, 5.547e-3, 7.189e-3, 5.984e-3, 6.147e-3, 6.711e-3, 8.405e-3,
  6.500e-3, 7.516e-3, 7.242e-3, 8.116e-3, 8.247e-3, 7.242e-3, 6.705e-3, 7.884e-3, 9.989e-3, 8.979e-3,
  7.111e-3, 6.384e-3, 8.226e-3, 6.289e-3, 8.163e-3, 7.516e-3, 5.747e-3, 6.384e-3, 8.868e-3, 8.126e-3,
  7.058e-3, 6.500e-3, 6.542e-3, 7.884e-3, 7.147e-3, 7.605e-3, 8.516e-3, 6.832e-3, 8.726e-3, 9.005e-3,
  5.974e-3, 7.958e-3, 5.479e-3, 7.889e-3, 8.068e-3, 7.584e-3, 7.753e-3, 8.911e-3, 7.174e-3, 9.237e-3,
  7.453e-3, 8.289e-3, 7.616e-3, 7.289e-3, 5.747e-3, 6.479e-3, 5.616e-3, 9.742e-3, 9.674e-3, 9.595e-3,
  8.805e-3, 7.542e-3, 7.358e-3, 7.447e-3, 7.937e-3, 5.584e-3, 5.605e-3, 7.453e-3, 8.016e-3, 7.721e-3,
  7.037e-3, 6.984e-3, 5.479e-3, 8.400e-3, 8.305e-3, 9.079e-3, 5.779e-3, 9.826e-3, 8.900e-3, 6.989e-3,
  7.095e-3, 7.600e-3, 8.821e-3, 6.747e-3, 7.558e-3, 7.053e-3, 8.053e-3, 7.426e-3, 6.495e-3, 5.684e-3,
  8.016e-3, 7.953e-3, 8.068e-3, 7.889e-3, 7.779e-3, 6.105e-3, 9.337e-3, 8.742e-3, 7.058e-3, 7.195e-3,
  5.095e-3, 9.047e-3, 9.963e-3, 9.995e-3, 8.416e-3, 9.721e-3, 7.447e-3, 9.816e-3, 9.463e-3, 7.711e-3,
  9.068e-3, 9.242e-3, 7.595e-3, 8.163e-3, 9.384e-3, 9.847e-3, 9.853e-3, 9.121e-3, 8.932e-3, 8.805e-3,
  8.716e-3, 9.847e-3, 8.226e-3, 9.963e-3, 7.437e-3, 8.737e-3, 8.653e-3, 7.737e-3, 9.058e-3, 9.779e-3,
  9.411e-3, 9.963e-3, 6.732e-3, 8.537e-3, 7.753e-3, 7.511e-3, 8.184e-3, 7.832e-3, 8.216e-3, 9.779e-3,
  7.679e-3, 7.158e-3, 7.374e-3, 7.168e-3, 7.637e-3, 7.553e-3, 9.216e-3, 6.911e-3, 9.605e-3, 9.921e-3,
  8.989e-3, 8.268e-3, 9.163e-3, 9.663e-3, 6.300e-3, 9.637e-3, 9.842e-3, 8.484e-3, 9.979e-3, 9.568e-3,
  9.258e-3, 9.047e-3, 8.458e-3, 8.342e-3, 9.700e-3, 9.332e-3, 7.953e-3, 9.821e-3, 8.542e-3, 9.879e-3,
  8.695e-3, 8.205e-3, 8.058e-3, 7.447e-3, 9.863e-3, 9.537e-3, 9.674e-3, 9.521e-3, 9.947e-3, 8.505e-3,
  7.563e-3, 9.258e-3, 9.516e-3, 8.684e-3, 9.647e-3, 8.579e-3, 8.763e-3, 9.411e-3, 8.674e-3, 7.553e-3,
  9.200e-3, 8.453e-3, 9.584e-3, 9.574e-3, 9.847e-3, 8.937e-3, 9.658e-3, 9.037e-3, 9.842e-3, 9.826e-3,
  9.674e-3, 9.521e-3, 8.568e-3
];

// ABC
const abcTrue = [
  5.000e-3, 5.020e-3, 5.035e-3, 5.050e-3, 5.070e-3, 5.100e-3, 5.110e-3, 5.120e-3, 5.174e-3, 5.180e-3,
  5.189e-3, 5.204e-3, 5.209e-3, 5.254e-3, 5.254e-3, 5.264e-3, 5.294e-3, 5.314e-3, 5.314e-3, 5.324e-3,
  5.334e-3, 5.349e-3, 5.354e-3, 5.359e-3, 5.384e-3, 5.394e-3, 5.404e-3, 5.439e-3, 5.449e-3, 5.494e-3,
  5.509e-3, 5.563e-3, 5.578e-3, 5.598e-3, 5.608e-3, 5.613e-3, 5.618e-3, 5.628e-3, 5.628e-3, 5.648e-3,
  5.653e-3, 5.663e-3, 5.698e-3, 5.728e-3, 5.738e-3, 5.753e-3, 5.753e-3, 5.798e-3, 5.832e-3, 5.857e-3,
  5.872e-3, 5.877e-3, 5.922e-3, 5.927e-3, 5.942e-3, 5.952e-3, 5.962e-3, 5.957e-3, 5.952e-3, 5.982e-3,
  6.002e-3, 6.022e-3, 6.017e-3, 6.022e-3, 6.057e-3, 6.047e-3, 6.082e-3, 6.127e-3, 6.137e-3, 6.152e-3,
  6.172e-3, 6.172e-3, 6.182e-3, 6.182e-3, 6.187e-3, 6.192e-3, 6.192e-3, 6.217e-3, 6.217e-3, 6.232e-3,
  6.257e-3, 6.262e-3, 6.257e-3, 6.267e-3, 6.307e-3, 6.317e-3, 6.317e-3, 6.371e-3, 6.411e-3, 6.461e-3,
  6.471e-3, 6.481e-3, 6.516e-3, 6.516e-3, 6.516e-3, 6.526e-3, 6.546e-3, 6.595e-3, 6.595e-3, 6.611e-3,
  6.620e-3, 6.630e-3, 6.645e-3, 6.650e-3, 6.665e-3, 6.675e-3, 6.685e-3, 6.695e-3, 6.710e-3, 6.725e-3,
  6.730e-3, 6.735e-3, 6.755e-3, 6.785e-3, 6.810e-3, 6.844e-3, 6.834e-3, 6.854e-3, 6.874e-3, 6.884e-3,
  6.899e-3, 6.919e-3, 6.929e-3, 6.934e-3, 6.949e-3, 6.954e-3, 6.959e-3, 6.969e-3, 6.989e-3, 7.009e-3,
  7.064e-3, 7.089e-3, 7.104e-3, 7.119e-3, 7.129e-3, 7.134e-3, 7.139e-3, 7.139e-3, 7.149e-3, 7.164e-3,
  7.159e-3, 7.174e-3, 7.199e-3, 7.204e-3, 7.224e-3, 7.244e-3, 7.264e-3, 7.274e-3, 7.269e-3, 7.299e-3,
  7.309e-3, 7.344e-3, 7.353e-3, 7.363e-3, 7.403e-3, 7.418e-3, 7.423e-3, 7.433e-3, 7.438e-3, 7.448e-3,
  7.463e-3, 7.473e-3, 7.508e-3, 7.518e-3, 7.543e-3, 7.563e-3, 7.598e-3, 7.633e-3, 7.653e-3, 7.663e-3,
  7.678e-3, 7.678e-3, 7.673e-3, 7.688e-3, 7.718e-3, 7.728e-3, 7.777e-3, 7.807e-3, 7.837e-3, 7.892e-3,
  7.912e-3, 7.917e-3, 7.932e-3, 7.936e-3, 7.941e-3, 7.946e-3, 7.951e-3, 7.956e-3, 7.961e-3, 7.971e-3,
  7.976e-3, 7.986e-3, 7.991e-3, 7.996e-3, 8.001e-3, 8.006e-3, 8.016e-3, 8.026e-3, 8.036e-3, 8.046e-3,
  8.061e-3, 8.071e-3, 8.081e-3, 8.081e-3, 8.086e-3, 8.091e-3, 8.101e-3, 8.111e-3, 8.126e-3, 8.141e-3,
  8.166e-3, 8.176e-3, 8.191e-3, 8.226e-3, 8.280e-3, 8.295e-3, 8.315e-3, 8.335e-3, 8.355e-3, 8.370e-3,
  8.380e-3, 8.390e-3, 8.400e-3, 8.410e-3, 8.425e-3, 8.430e-3, 8.435e-3, 8.440e-3, 8.445e-3, 8.465e-3,
  8.470e-3, 8.480e-3, 8.480e-3, 8.495e-3, 8.505e-3, 8.515e-3, 8.525e-3, 8.589e-3, 8.609e-3, 8.629e-3,
  8.644e-3, 8.659e-3, 8.689e-3, 8.709e-3, 8.724e-3, 8.739e-3, 8.759e-3, 8.754e-3, 8.754e-3, 8.764e-3,
  8.774e-3, 8.794e-3, 8.804e-3, 8.818e-3, 8.833e-3, 8.858e-3, 8.898e-3, 8.903e-3, 8.923e-3, 8.938e-3,
  8.943e-3, 8.953e-3, 9.038e-3, 9.073e-3, 9.078e-3, 9.093e-3, 9.103e-3, 9.103e-3, 9.108e-3, 9.113e-3,
  9.123e-3, 9.133e-3, 9.138e-3, 9.193e-3, 9.213e-3, 9.218e-3, 9.223e-3, 9.228e-3, 9.233e-3, 9.238e-3,
  9.248e-3, 9.253e-3, 9.273e-3, 9.278e-3, 9.318e-3, 9.313e-3, 9.318e-3, 9.348e-3, 9.353e-3, 9.368e-3,
  9.368e-3, 9.378e-3, 9.393e-3, 9.403e-3, 9.408e-3, 9.413e-3, 9.423e-3, 9.433e-3, 9.448e-3, 9.452e-3,
  9.472e-3, 9.482e-3, 9.497e-3, 9.502e-3, 9.512e-3, 9.527e-3, 9.557e-3, 9.567e-3, 9.582e-3, 9.607e-3,
  9.627e-3, 9.637e-3, 9.652e-3, 9.652e-3, 9.657e-3, 9.677e-3, 9.707e-3, 9.721e-3, 9.746e-3, 9.766e-3,
  9.766e-3, 9.791e-3, 9.801e-3, 9.811e-3, 9.841e-3, 9.861e-3, 9.871e-3, 9.886e-3, 9.901e-3, 9.911e-3,
  9.955e-3, 9.960e-3, 9.965e-3, 9.990e-3
];
const abcEst = [
  6.542e-3, 6.095e-3, 6.795e-3, 6.995e-3, 6.089e-3, 7.474e-3, 6.705e-3, 7.179e-3, 6.200e-3, 6.774e-3,
  7.379e-3, 6.442e-3, 6.047e-3, 6.953e-3, 7.037e-3, 7.426e-3, 6.200e-3, 6.216e-3, 6.563e-3, 7.321e-3,
  7.242e-3, 7.174e-3, 7.016e-3, 7.416e-3, 7.137e-3, 6.295e-3, 6.779e-3, 6.758e-3, 7.374e-3, 7.221e-3,
  7.058e-3, 7.042e-3, 6.395e-3, 7.026e-3, 7.226e-3, 7.400e-3, 6.674e-3, 7.416e-3, 7.216e-3, 6.505e-3,
  6.305e-3, 6.626e-3, 6.500e-3, 6.500e-3, 7.353e-3, 8.379e-3, 7.384e-3, 6.542e-3, 7.468e-3, 6.374e-3,
  6.753e-3, 7.784e-3, 8.068e-3, 6.911e-3, 7.284e-3, 7.132e-3, 7.711e-3, 6.911e-3, 6.611e-3, 7.037e-3,
  6.611e-3, 8.058e-3, 7.237e-3, 6.942e-3, 6.911e-3, 7.595e-3, 7.468e-3, 8.400e-3, 6.995e-3, 6.853e-3,
  8.084e-3, 7.547e-3, 7.437e-3, 7.111e-3, 7.995e-3, 6.726e-3, 7.300e-3, 8.058e-3, 6.721e-3, 6.947e-3,
  8.037e-3, 7.389e-3, 7.021e-3, 6.632e-3, 7.163e-3, 7.053e-3, 6.974e-3, 7.700e-3, 6.768e-3, 7.153e-3,
  7.300e-3, 8.295e-3, 7.342e-3, 6.937e-3, 6.342e-3, 6.874e-3, 7.226e-3, 8.221e-3, 7.463e-3, 7.516e-3,
  6.732e-3, 7.132e-3, 7.584e-3, 7.326e-3, 6.758e-3, 7.537e-3, 7.495e-3, 7.353e-3, 7.968e-3, 7.505e-3,
  6.900e-3, 7.389e-3, 6.921e-3, 7.111e-3, 6.811e-3, 6.547e-3, 7.453e-3, 6.947e-3, 6.974e-3, 7.242e-3,
  7.279e-3, 7.484e-3, 7.411e-3, 8.374e-3, 7.111e-3, 7.037e-3, 7.595e-3, 7.300e-3, 7.121e-3, 7.174e-3,
  8.584e-3, 8.163e-3, 7.242e-3, 7.189e-3, 7.526e-3, 8.163e-3, 8.363e-3, 8.242e-3, 8.200e-3, 7.258e-3,
  7.547e-3, 7.500e-3, 6.784e-3, 7.489e-3, 7.632e-3, 7.895e-3, 7.584e-3, 6.879e-3, 7.111e-3, 8.047e-3,
  7.195e-3, 8.153e-3, 7.568e-3, 7.368e-3, 7.774e-3, 7.495e-3, 7.237e-3, 9.995e-3, 8.316e-3, 7.679e-3,
  6.895e-3, 7.263e-3, 7.500e-3, 7.189e-3, 7.189e-3, 7.021e-3, 7.495e-3, 8.711e-3, 8.363e-3, 7.732e-3,
  8.042e-3, 8.400e-3, 7.163e-3, 6.942e-3, 6.953e-3, 7.511e-3, 8.542e-3, 7.153e-3, 7.363e-3, 7.726e-3,
  7.926e-3, 7.500e-3, 8.295e-3, 8.584e-3, 7.721e-3, 6.995e-3, 7.389e-3, 8.289e-3, 7.511e-3, 6.995e-3,
  8.521e-3, 8.363e-3, 8.232e-3, 7.400e-3, 7.200e-3, 7.068e-3, 7.642e-3, 8.021e-3, 7.037e-3, 7.300e-3,
  7.721e-3, 8.474e-3, 8.232e-3, 7.179e-3, 7.016e-3, 7.505e-3, 7.742e-3, 7.716e-3, 8.526e-3, 7.279e-3,
  7.447e-3, 7.626e-3, 7.463e-3, 7.663e-3, 8.405e-3, 7.537e-3, 7.595e-3, 7.516e-3, 7.805e-3, 7.368e-3,
  7.484e-3, 7.137e-3, 8.316e-3, 8.479e-3, 8.084e-3, 7.584e-3, 7.879e-3, 7.400e-3, 7.747e-3, 7.784e-3,
  7.242e-3, 7.058e-3, 8.547e-3, 7.268e-3, 7.468e-3, 7.937e-3, 7.637e-3, 8.221e-3, 8.726e-3, 7.479e-3,
  7.758e-3, 8.905e-3, 7.926e-3, 8.332e-3, 7.426e-3, 7.942e-3, 7.821e-3, 7.642e-3, 9.889e-3, 9.963e-3,
  8.400e-3, 7.232e-3, 8.742e-3, 8.032e-3, 7.721e-3, 8.537e-3, 7.374e-3, 8.316e-3, 8.121e-3, 8.884e-3,
  7.753e-3, 7.595e-3, 7.500e-3, 7.779e-3, 8.258e-3, 8.511e-3, 8.574e-3, 7.289e-3, 7.079e-3, 7.368e-3,
  7.795e-3, 8.421e-3, 7.805e-3, 7.095e-3, 8.911e-3, 8.495e-3, 7.379e-3, 7.758e-3, 8.674e-3, 7.626e-3,
  8.374e-3, 7.368e-3, 8.816e-3, 7.463e-3, 9.789e-3, 8.211e-3, 8.547e-3, 8.842e-3, 8.637e-3, 8.279e-3,
  8.084e-3, 7.626e-3, 8.484e-3, 8.211e-3, 7.626e-3, 8.489e-3, 7.905e-3, 8.405e-3, 7.926e-3, 7.800e-3,
  8.647e-3, 8.489e-3, 7.716e-3, 7.574e-3, 8.453e-3, 8.574e-3, 8.311e-3, 7.579e-3, 8.558e-3, 8.574e-3,
  7.468e-3, 7.579e-3, 8.705e-3, 8.158e-3, 8.611e-3, 8.468e-3, 7.416e-3, 8.374e-3, 8.626e-3, 7.226e-3,
  8.184e-3, 8.279e-3, 8.647e-3, 8.421e-3, 8.432e-3, 8.037e-3, 8.726e-3, 7.932e-3, 8.868e-3, 7.721e-3,
  8.095e-3, 8.495e-3, 7.300e-3, 7.926e-3
];

const panelData = [
  [rmTrue, rmEst],
  [rmdrTrue, rmdrEst],
  [sleTrue, sleEst],
  [abcTrue, abcEst]
];

const FONT = 'DejaVu Sans';
const panelLeft = [0, 677, 1353, 2030];

function toPoints(xs, ys) {
  return xs.map((x, i) => ({ x: x, y: ys[i] }));
}

// draws "text θ₂" pieces one after another, centred on cx
function drawRich(ctx, parts, cx, baseline) {
  let total = 0;
  parts.forEach(p => { ctx.font = p.font; p.w = ctx.measureText(p.text).width; total += p.w; });
  let x = cx - total / 2;
  ctx.textAlign = 'left';
  ctx.textBaseline = 'alphabetic';
  parts.forEach(p => {
    ctx.font = p.font;
    ctx.fillText(p.text, x, baseline + (p.dy || 0));
    x += p.w;
  });
}

function thetaLabel(text) {
  return [
    { text: text, font: '34.5px "' + FONT + '"' },
    { text: '\u03b8', font: 'italic 34.5px "' + FONT + '"' },
    { text: '2', font: '23px "' + FONT + '"', dy: 5 }
  ];
}

const panelDecor = {
  id: 'panelDecor',
  afterDatasetsDraw(chart, args, opts) {
    const a = chart.chartArea;
    const ctx = chart.ctx;
    ctx.save();
    // axes frame
    ctx.strokeStyle = '#000';
    ctx.lineWidth = 1.2;
    ctx.strokeRect(a.left, a.top, a.right - a.left, a.bottom - a.top);

    // legend, lower right
    const bx = a.right - 254, by = a.bottom - 105, bw = 240, bh = 91;
    ctx.beginPath();
    ctx.roundRect(bx, by, bw, bh, 5);
    ctx.fillStyle = 'rgba(255,255,255,0.8)';
    ctx.fill();
    ctx.strokeStyle = '#cccccc';
    ctx.lineWidth = 1;
    ctx.stroke();

    ctx.beginPath();
    ctx.arc(a.right - 215, a.bottom - 81, 3.9, 0, Math.PI * 2);
    ctx.strokeStyle = '#000';
    ctx.lineWidth = 1.2;
    ctx.stroke();

    ctx.beginPath();
    ctx.moveTo(a.right - 243, a.bottom - 41);
    ctx.lineTo(a.right - 186, a.bottom - 41);
    ctx.strokeStyle = '#ff0000';
    ctx.lineWidth = 1.5;
    ctx.stroke();

    ctx.fillStyle = '#000';
    ctx.font = '27.5px "' + FONT + '"';
    ctx.textAlign = 'left';
    ctx.textBaseline = 'alphabetic';
    ctx.fillText('estimated', a.right - 164, a.bottom - 73.5);
    ctx.fillText('truth', a.right - 164, a.bottom - 31);
    ctx.restore();
  },
  afterDraw(chart, args, opts) {
    const a = chart.chartArea;
    const ctx = chart.ctx;
    const cx = (a.left + a.right) / 2;
    ctx.save();
    ctx.fillStyle = '#000';
    ctx.font = '34.5px "' + FONT + '"';
    ctx.textAlign = 'center';
    ctx.textBaseline = 'alphabetic';
    ctx.fillText(opts.title, cx, a.top - 9.5);

    drawRich(ctx, thetaLabel('true value of '), cx, 719);

    if (opts.yLabel) {
      ctx.translate(30.5, (a.top + a.bottom) / 2);
      ctx.rotate(-Math.PI / 2);
      drawRich(ctx, thetaLabel('estimated value of '), 0, 0);
    }
    ctx.restore();
  }
};

const tickFont = { family: FONT, size: 23.5 };
const gridStyle = {
  color: '#b0b0b0',
  lineWidth: 1,
  drawTicks: true,
  tickLength: 5,
  tickColor: '#000',
  tickWidth: 1.2
};

const figure = document.getElementById('figure');

panelTitles.forEach((title, i) => {
  const canvas = document.createElement('canvas');
  canvas.className = 'panel';
  canvas.width = 600;
  canvas.height = 726;
  canvas.style.left = panelLeft[i] + 'px';
  canvas.style.width = '600px';
  canvas.style.height = '726px';
  figure.appendChild(canvas);

  const [trueVals, estVals] = panelData[i];

  new Chart(canvas.getContext('2d'), {
    type: 'scatter',
    data: {
      datasets: [
        {
          label: 'truth',
          data: toPoints(truthX, truthY),
          showLine: true,
          borderColor: '#ff0000',
          borderWidth: 1.5,
          pointRadius: 0,
          order: 0
        },
        {
          label: 'estimated',
          data: toPoints(trueVals, estVals),
          pointStyle: 'circle',
          pointRadius: 3.9,
          borderWidth: 1.2,
          borderColor: '#000',
          backgroundColor: 'rgba(0,0,0,0)',
          order: 1
        }
      ]
    },
    options: {
      responsive: false,
      animation: false,
      // y axis box is 120 px wide so the tick labels are not clipped
      layout: { padding: { left: 5, right: 24, top: 34, bottom: 36 } },
      plugins: {
        legend: { display: false },
        tooltip: { enabled: false },
        panelDecor: { title: title, yLabel: i === 0 }
      },
      scales: {
        x: {
          type: 'linear',
          min: xLimits[0],
          max: xLimits[1],
          afterBuildTicks: s => { s.ticks = xTicks.map(v => ({ value: v })); },
          afterFit: s => { s.height = 40; },
          grid: gridStyle,
          border: { display: false },
          ticks: {
            color: '#000',
            font: tickFont,
            padding: 3,
            maxRotation: 0,
            autoSkip: false,
            callback: v => v.toFixed(3)
          }
        },
        y: {
          type: 'linear',
          min: yLimits[0],
          max: yLimits[1],
          afterBuildTicks: s => { s.ticks = yTicks.map(v => ({ value: v })); },
          afterFit: s => { s.width = 120; },
          grid: gridStyle,
          border: { display: false },
          ticks: {
            color: '#000',
            font: tickFont,
            padding: 8,
            autoSkip: false,
            callback: v => v.toFixed(3)
          }
        }
      }
    },
    plugins: [panelDecor]
  });
});
</script>
</body>
</html>
